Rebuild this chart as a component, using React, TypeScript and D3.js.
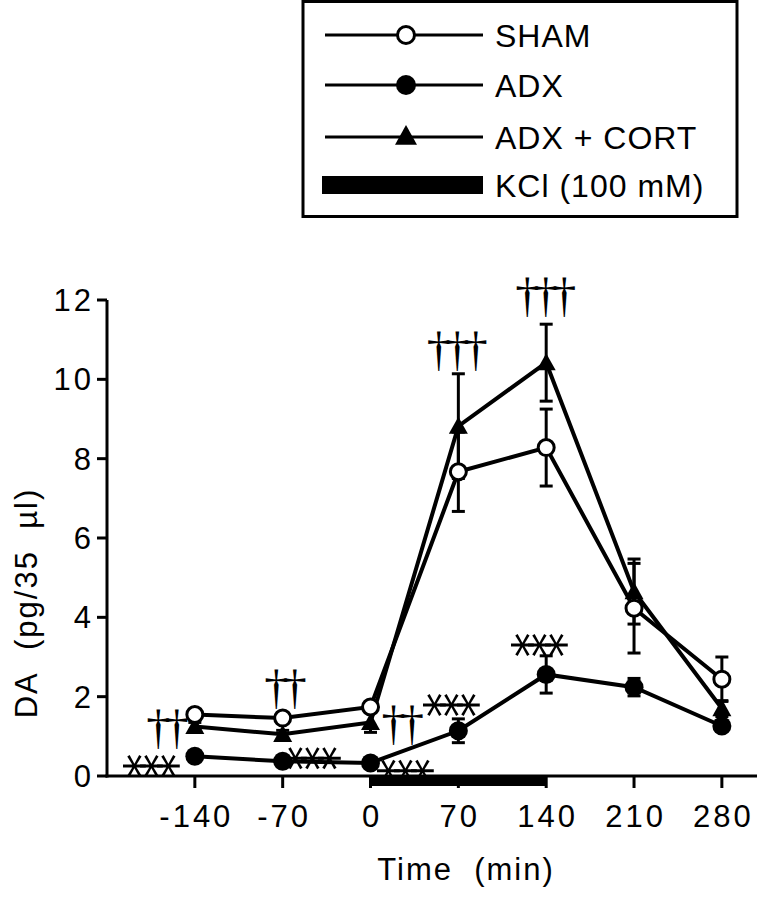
import React from "react";
import * as d3 from "d3";

const times = [-140, -70, 0, 70, 140, 210, 280];
const xTicks = [-140, -70, 0, 70, 140, 210, 280];
const yTicks = [0, 2, 4, 6, 8, 10, 12];

const shamMean = [1.55, 1.46, 1.74, 7.67, 8.28, 4.23, 2.44];
const shamSem = [0.12, 0.1, 0.12, 1.0, 0.97, 1.13, 0.56];
const adxMean = [0.5, 0.37, 0.33, 1.14, 2.56, 2.24, 1.26];
const adxSem = [0.08, 0.06, 0.06, 0.3, 0.47, 0.22, 0.12];
const cortMean = [1.25, 1.05, 1.35, 8.82, 10.42, 4.65, 1.7];
const cortSem = [0.1, 0.1, 0.25, 1.32, 0.97, 0.82, 0.2];

const kclStart = 0;
const kclEnd = 140;

const legendLabels = ["SHAM", "ADX", "ADX + CORT", "KCl (100 mM)"];

// annotations: [time, value, text]
const starNotes: [number, number, string][] = [
  [-171, 0.25, "***"],
  [-42.6, 0.45, "***"],
  [31.5, 0.13, "***"],
  [68, 1.79, "***"],
  [138, 3.3, "***"],
];
const daggerNotes: [number, number, string][] = [
  [-164, 1.16, "††"],
  [-70, 2.17, "††"],
  [23.5, 1.26, "††"],
  [67, 10.69, "†††"],
  [137.5, 12.05, "†††"],
];

const W = 772;
const H = 900;

export default function App() {
  const x = d3.scaleLinear().domain([-210, 308]).range([107, 757]);
  const y = d3.scaleLinear().domain([0, 12]).range([776, 300]);
  const line = d3
    .line<number>()
    .x((_, i) => x(times[i]))
    .y((d) => y(d));

  const font = "'Liberation Sans', Arial, sans-serif";

  const errBars = (mean: number[], sem: number[], key: string) =>
    mean.map((m, i) => {
      const cx = x(times[i]);
      const y1 = y(m + sem[i]);
      const y2 = y(m - sem[i]);
      return (
        <g key={key + i} stroke="#000" strokeWidth={3}>
          <line x1={cx} x2={cx} y1={y1} y2={y2} />
          <line x1={cx - 6.5} x2={cx + 6.5} y1={y1} y2={y1} />
          <line x1={cx - 6.5} x2={cx + 6.5} y1={y2} y2={y2} />
        </g>
      );
    });

  const tri = (cx: number, cy: number, s = 9.5) =>
    `M${cx},${cy - s}L${cx + s},${cy + s * 0.8}L${cx - s},${cy + s * 0.8}Z`;

  const starFs = 50;
  const stars = (t: number, v: number, txt: string, k: number) => {
    const cx = x(t);
    const cy = y(v);
    const n = txt.length;
    return (
      <g key={"s" + k}>
        {d3.range(n).map((j) => {
          const gx = cx + (j - (n - 1) / 2) * 17;
          return (
            <text
              key={j}
              x={gx}
              y={cy + 0.6 * starFs}
              textAnchor="middle"
              fontFamily="'DejaVu Sans', sans-serif"
              fontSize={starFs}
              transform={`rotate(90, ${gx}, ${cy})`}
            >
              *
            </text>
          );
        })}
      </g>
    );
  };

  const dagFs = 48;
  const dagSpacing = 18.5;
  const daggers = (t: number, v: number, txt: string, k: number) => {
    const cx = x(t);
    const cy = y(v);
    const n = txt.length;
    const ls = dagSpacing - 0.5 * dagFs;
    return (
      <text
        key={"d" + k}
        x={cx - (n * dagSpacing) / 2}
        y={cy + 0.27 * dagFs}
        fontFamily="'Liberation Serif', serif"
        fontSize={dagFs}
        letterSpacing={ls}
      >
        {txt}
      </text>
    );
  };

  const legX1 = 325;
  const legX2 = 483;
  const legMx = 406;
  const legYs = [35, 85, 137, 185];

  return (
    <svg width={W} height={H} style={{ position: "absolute", left: 0, top: 0 }}>
      <rect width={W} height={H} fill="#fff" />
      {/* Legend */}
      <rect x={303} y={1.5} width={434} height={215} fill="none" stroke="#000" strokeWidth={3} />
      {legendLabels.map((lab, i) => (
        <g key={lab}>
          {i < 3 ? (
            <line x1={legX1} x2={legX2} y1={legYs[i]} y2={legYs[i]} stroke="#000" strokeWidth={3} />
          ) : (
            <rect x={322} y={legYs[i] - 9} width={161} height={18} fill="#000" />
          )}
          {i === 0 && <circle cx={legMx} cy={legYs[i]} r={8.5} fill="#fff" stroke="#000" strokeWidth={3} />}
          {i === 1 && <circle cx={legMx} cy={legYs[i]} r={10} fill="#000" />}
          {i === 2 && <path d={tri(legMx, legYs[i] - 1, 11)} fill="#000" />}
          <text
            x={495}
            y={legYs[i] + 11.5}
            fontFamily={font}
            fontSize={32}
            letterSpacing={1}
          >
            {lab}
          </text>
        </g>
      ))}

      {/* KCl bar */}
      <rect x={x(kclStart)} y={776} width={x(kclEnd) - x(kclStart)} height={10} fill="#000" />

      {/* Axes */}
      <line x1={107} x2={107} y1={y(12)} y2={777.5} stroke="#000" strokeWidth={3} />
      <line x1={105.5} x2={757} y1={776} y2={776} stroke="#000" strokeWidth={3} />
      {yTicks.map((t) => (
        <g key={"yt" + t}>
          <line x1={97} x2={107} y1={y(t)} y2={y(t)} stroke="#000" strokeWidth={3} />
          <text
            x={94}
            y={y(t) + 11}
            textAnchor="end"
            fontFamily={font}
            fontSize={31}
            letterSpacing={3}
          >
            {t}
          </text>
        </g>
      ))}
      {xTicks.map((t) => (
        <g key={"xt" + t}>
          <line x1={x(t)} x2={x(t)} y1={776} y2={788} stroke="#000" strokeWidth={3} />
          <text
            x={x(t) + 1.5}
            y={827}
            textAnchor="middle"
            fontFamily={font}
            fontSize={31}
            letterSpacing={3}
          >
            {t}
          </text>
        </g>
      ))}
      <text x={466} y={880} textAnchor="middle" fontFamily={font} fontSize={31} letterSpacing={2}>
        Time{"\u00a0\u00a0"}(min)
      </text>
      <text
        transform="translate(37, 603) rotate(-90)"
        textAnchor="middle"
        fontFamily={font}
        fontSize={31}
        letterSpacing={2}
      >
        DA{"\u00a0\u00a0"}(pg/35{"\u00a0\u00a0"}µl)
      </text>

      {/* Error bars */}
      {errBars(shamMean, shamSem, "es")}
      {errBars(cortMean, cortSem, "ec")}
      {errBars(adxMean, adxSem, "ea")}

      {/* Lines */}
      <path d={line(shamMean) || ""} fill="none" stroke="#000" strokeWidth={4} />
      <path d={line(cortMean) || ""} fill="none" stroke="#000" strokeWidth={4} />
      <path d={line(adxMean) || ""} fill="none" stroke="#000" strokeWidth={4} />

      {/* Markers */}
      {cortMean.map((m, i) => (
        <path key={"mc" + i} d={tri(x(times[i]), y(m))} fill="#000" />
      ))}
      {adxMean.map((m, i) => (
        <circle key={"ma" + i} cx={x(times[i])} cy={y(m)} r={9.5} fill="#000" />
      ))}
      {shamMean.map((m, i) => (
        <circle key={"ms" + i} cx={x(times[i])} cy={y(m)} r={8} fill="#fff" stroke="#000" strokeWidth={3} />
      ))}

      {/* Annotations */}
      {starNotes.map((a, k) => stars(a[0], a[1], a[2], k))}
      {daggerNotes.map((a, k) => daggers(a[0], a[1], a[2], k))}
    </svg>
  );
}
